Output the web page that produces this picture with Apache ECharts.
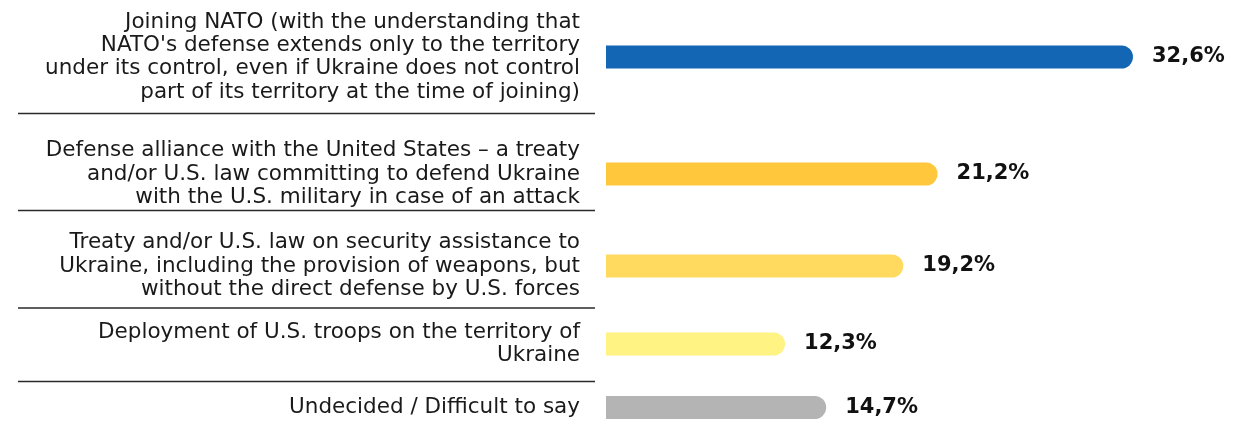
<!DOCTYPE html>
<html>
<head>
<meta charset="utf-8">
<script src="https://cdn.jsdelivr.net/npm/echarts@6/dist/echarts.min.js"></script>
<style>
html,body{margin:0;padding:0;background:#fff;}
#chart{width:1257px;height:425px;}
</style>
</head>
<body>
<div id="chart"></div>
<script>
// ---- data ----
const categories = [
  "Joining NATO (with the understanding that\nNATO's defense extends only to the territory\nunder its control, even if Ukraine does not control\npart of its territory at the time of joining)",
  "Defense alliance with the United States – a treaty\nand/or U.S. law committing to defend Ukraine\nwith the U.S. military in case of an attack",
  "Treaty and/or U.S. law on security assistance to\nUkraine, including the provision of weapons, but\nwithout the direct defense by U.S. forces",
  "Deployment of U.S. troops on the territory of\nUkraine",
  "Undecided / Difficult to say"
];
const values = [32.6, 21.2, 19.2, 12.3, 14.7];

// ---- styles / layout ----
const barColors = ['#1266B3', '#FFC83C', '#FFDA5E', '#FFF383', '#B4B4B4'];
const barCenters = [57, 174, 266, 344, 410];
const labelShift = [-3, -10, 2, 2, 0];
const separatorsY = [113.5, 210.5, 308, 381.5];
const FONT = '"DejaVu Sans", "Open Sans", sans-serif';

const chart = echarts.init(document.getElementById('chart'), null, {renderer: 'canvas'});

const grids = [], xAxes = [], yAxes = [], series = [];
values.forEach((v, i) => {
  grids.push({left: 606, right: 31.5, top: barCenters[i] - 20, height: 40});
  xAxes.push({type: 'value', gridIndex: i, min: 1.855, max: 38, show: false});
  const s = labelShift[i];
  yAxes.push({
    type: 'category', gridIndex: i, data: [categories[i]],
    axisLine: {show: false}, axisTick: {show: false}, splitLine: {show: false},
    axisLabel: {
      margin: 26, fontFamily: FONT, fontSize: 21.5, lineHeight: 23.3, color: '#1a1a1a',
      align: 'right',
      padding: s < 0 ? [0, 0, -2 * s, 0] : [2 * s, 0, 0, 0]
    }
  });
  series.push({
    type: 'bar', xAxisIndex: i, yAxisIndex: i, barWidth: 23, clip: true,
    data: [values[i]],
    itemStyle: {color: barColors[i], borderRadius: [0, 11.5, 11.5, 0]},
    label: {
      show: true, position: 'right', distance: 19,
      formatter: p => String(p.value).replace('.', ',') + '%',
      fontFamily: FONT, fontSize: 21, fontWeight: 'bold', color: '#111'
    },
    silent: true, animation: false
  });
});

const graphics = separatorsY.map(y => ({
  type: 'line', shape: {x1: 18, y1: y, x2: 595, y2: y},
  style: {stroke: '#2a2a2a', lineWidth: 1.3}, silent: true
}));

chart.setOption({
  animation: false,
  grid: grids, xAxis: xAxes, yAxis: yAxes, series: series,
  graphic: graphics
});
</script>
</body>
</html>
